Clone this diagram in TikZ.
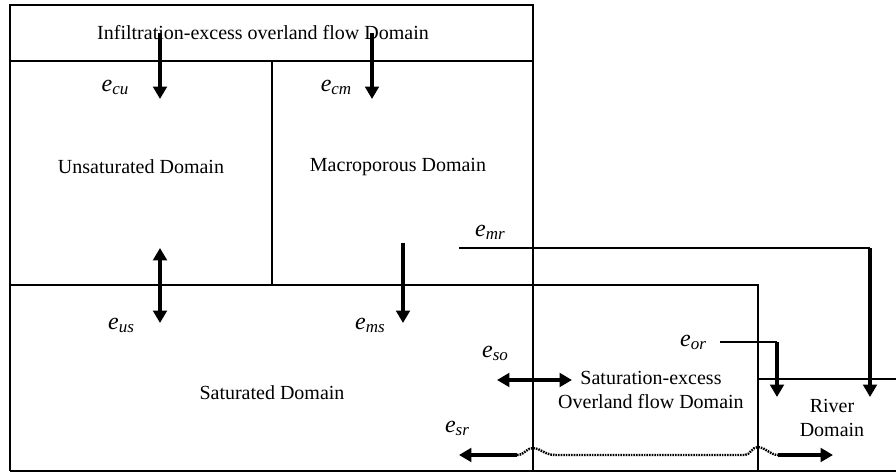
\documentclass[tikz,border=0pt]{standalone}
\usepackage{fontspec}
\setmainfont{Liberation Serif}
\usetikzlibrary{arrows.meta}
\newcommand{\flowlab}[1]{{\fontsize{12}{14}\selectfont\itshape e}\raisebox{-1.5pt}{\fontsize{8.5}{10}\selectfont\itshape #1}}
\begin{document}
\begin{tikzpicture}[x=0.5pt,y=-0.5pt,
  boxline/.style={line width=0.85pt},
  flow/.style={line width=1.6pt,-{Triangle[length=6.2pt,width=6.8pt]}},
  flowboth/.style={line width=1.6pt,{Triangle[length=6.2pt,width=6.8pt]}-{Triangle[length=6.2pt,width=6.8pt]}},
  feed/.style={line width=0.65pt},
  wavy/.style={line width=1.2pt,dash pattern=on 0.8pt off 0.5pt},
  lab/.style={font=\fontsize{10}{12}\selectfont, align=center, inner sep=0pt},
  elab/.style={inner sep=0pt}]
\useasboundingbox (0,0) rectangle (896,474);
% domain outlines
\draw[boxline] (10,5) rectangle (533,61);
\draw[boxline] (10,61) -- (10,471);
\draw[boxline] (533,61) -- (533,471);
\draw[boxline] (272,61) -- (272,285);
\draw[boxline] (10,285) -- (758,285) -- (758,471);
\draw[boxline] (10,471) -- (896,471);
\draw[boxline] (758,379) -- (896,379);
% domain labels
\node[lab] (infil) at (263,33) {Infiltration-excess overland flow Domain};
\node[lab] (unsat) at (141,167) {Unsaturated Domain};
\node[lab] (macro) at (398,167) {Macroporous Domain};
\node[lab] (sat) at (272,393) {Saturated Domain};
\node[lab] (satex) at (651,390) {Saturation-excess\\Overland flow Domain};
\node[lab] (river) at (832,418) {River\\Domain};
% flux labels
\node[elab] (ecu) at (115,87) {\flowlab{cu}};
\node[elab] (ecm) at (336,87) {\flowlab{cm}};
\node[elab] (eus) at (121,325) {\flowlab{us}};
\node[elab] (ems) at (370,325) {\flowlab{ms}};
\node[elab] (emr) at (490,232) {\flowlab{mr}};
\node[elab] (eso) at (495,353) {\flowlab{so}};
\node[elab] (eor) at (693,342) {\flowlab{or}};
\node[elab] (esr) at (457,428) {\flowlab{sr}};
% connector end points
\coordinate (cu1) at (160,33);  \coordinate (cu2) at (160,99);
\coordinate (cm1) at (372,33);  \coordinate (cm2) at (372,99);
\coordinate (us1) at (160,248); \coordinate (us2) at (160,323);
\coordinate (ms1) at (403,243); \coordinate (ms2) at (403,323);
\coordinate (so1) at (497,380); \coordinate (so2) at (572,380);
\coordinate (mr1) at (459,248); \coordinate (mr2) at (870,248); \coordinate (mr3) at (870,397);
\coordinate (or1) at (720,342); \coordinate (or2) at (777,342); \coordinate (or3) at (777,397);
\coordinate (sr1) at (517,455); \coordinate (sr0) at (459,455);
\coordinate (sr2) at (778,455); \coordinate (sr3) at (833,455);
% connectors
\draw[flow] (cu1) -- (cu2);
\draw[flow] (cm1) -- (cm2);
\draw[flowboth] (us1) -- (us2);
\draw[flow] (ms1) -- (ms2);
\draw[flowboth] (so1) -- (so2);
\draw[feed] (mr1) -- (mr2);
\draw[flow] (mr2) -- (mr3);
\draw[feed] (or1) -- (or2);
\draw[flow] (or2) -- (or3);
\draw[flow] (sr1) -- (sr0);
\draw[wavy] (sr1) .. controls (525,455) and (526,448) .. (533,448)
  .. controls (540,448) and (545,455) .. (555,455) -- (745,455)
  .. controls (750,455) and (752,447) .. (758,447)
  .. controls (765,447) and (770,455) .. (sr2);
\draw[flow] (sr2) -- (sr3);
\end{tikzpicture}
\end{document}
